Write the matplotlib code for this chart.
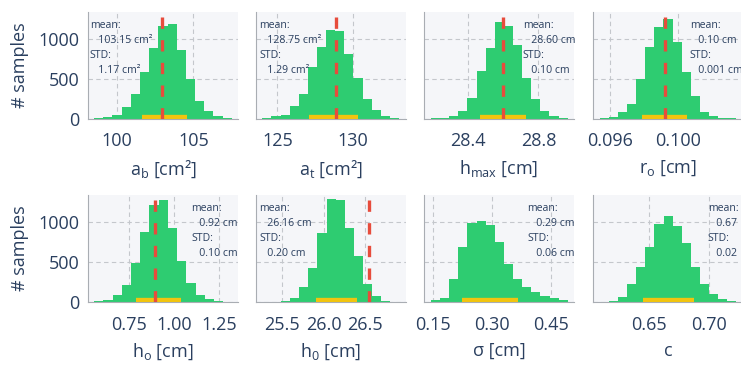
import numpy as np
import matplotlib
matplotlib.use("Agg")
import matplotlib.pyplot as plt

plt.rcParams["font.family"] = ["Open Sans", "DejaVu Sans"]
plt.rcParams["mathtext.fontset"] = "custom"
plt.rcParams["mathtext.rm"] = "Open Sans"
plt.rcParams["mathtext.it"] = "Open Sans"

GREEN = "#2ecc71"
YELLOW = "#f1c40f"
RED = "#e74c3c"
TEXT = "#2a3f5f"
BG = "#f5f6f9"
GRID = "#c4c7cc"

# axis titles
LABELS = [
    r"$\mathrm{a_b}$ [cm²]", r"$\mathrm{a_t}$ [cm²]", r"$\mathrm{h_{max}}$ [cm]", r"$\mathrm{r_o}$ [cm]",
    r"$\mathrm{h_o}$ [cm]", r"$\mathrm{h_0}$ [cm]", "σ [cm]", "c",
]

# histogram counts, 15 bins each
COUNTS = [
    [3, 20, 50, 146, 314, 586, 891, 1159, 1192, 866, 502, 218, 92, 33, 12],
    [3, 30, 50, 160, 312, 652, 905, 1107, 1096, 815, 513, 242, 113, 35, 12],
    [2, 8, 35, 95, 258, 595, 883, 1207, 1162, 920, 514, 250, 95, 30, 8],
    [3, 15, 82, 182, 493, 900, 1147, 1255, 966, 589, 283, 86, 27, 7, 3],
    [15, 22, 92, 215, 485, 884, 1215, 1281, 926, 520, 245, 85, 33, 8, 4],
    [2, 3, 10, 48, 185, 427, 873, 1290, 1278, 936, 578, 230, 80, 15, 3],
    [19, 46, 295, 692, 992, 1015, 968, 755, 472, 293, 194, 129, 80, 48, 21],
    [3, 17, 57, 220, 445, 697, 979, 1085, 954, 740, 445, 220, 105, 33, 14],
]

# histogram range (first and last bin edge)
BIN_RANGE = [
    (98.52, 107.50), (124.01, 133.04), (28.192, 28.966), (0.095415, 0.103378),
    (0.5593, 1.324), (25.266, 26.911), (0.1458, 0.4932), (0.6089, 0.7222),
]

# reference value (red dashed line), None where absent
TRUE_VALUE = [102.98, 128.88, 28.60, 0.0992, 0.898, 26.55, None, None]

# interval shown as yellow bar
INTERVAL = [
    (101.63, 104.60), (127.09, 130.33), (28.472, 28.73), (0.09789, 0.10051),
    (0.7926, 1.037), (25.911, 26.403), (0.2246, 0.366), (0.645, 0.6872),
]

MEAN_TEXT = ["103.15 cm²", "128.75 cm²", "28.60 cm", "0.10 cm", "0.92 cm", "26.16 cm", "0.29 cm", "0.67"]
STD_TEXT = ["1.17 cm²", "1.29 cm²", "0.10 cm", "0.001 cm", "0.10 cm", "0.20 cm", "0.06 cm", "0.02"]

XTICKS = [
    [100, 105], [125, 130], [28.4, 28.8], [0.096, 0.100],
    [0.75, 1.00, 1.25], [25.5, 26.0, 26.5], [0.15, 0.30, 0.45], [0.65, 0.70],
]
XTICKLABELS = [
    ["100", "105"], ["125", "130"], ["28.4", "28.8"], ["0.096", "0.100"],
    ["0.75", "1.00", "1.25"], ["25.5", "26.0", "26.5"], ["0.15", "0.30", "0.45"], ["0.65", "0.70"],
]
XLIM = [
    (98.13, 107.9), (123.59, 133.5), (28.152, 29.002), (0.095005, 0.103788),
    (0.526, 1.354), (25.18, 26.996), (0.128, 0.509), (0.603, 0.728),
]
YTICKS = [0, 500, 1000]
YLIM = (0, 1345)

# layout (pixels)
W, H = 741, 365
COL_LEFT = [88, 256, 424, 593]
ROW_TOP = [11.5, 195]
PANEL_W, PANEL_H = 150, 107
TEXT_X = [0.011, 0.02, 0.658, 0.645, 0.687, 0.02, 0.69, 0.765]

fig = plt.figure(figsize=(W / 100, H / 100), dpi=100)

for i in range(8):
    r, c = divmod(i, 4)
    left = COL_LEFT[c] / W
    bottom = (H - ROW_TOP[r] - PANEL_H) / H
    ax = fig.add_axes([left, bottom, PANEL_W / W, PANEL_H / H])
    ax.set_facecolor(BG)
    ax.set_axisbelow(True)

    edges = np.linspace(BIN_RANGE[i][0], BIN_RANGE[i][1], len(COUNTS[i]) + 1)
    ax.stairs(COUNTS[i], edges, fill=True, color=GREEN, zorder=2)

    lo, hi = INTERVAL[i]
    ax.plot([lo, hi], [0, 0], color=YELLOW, lw=6, solid_capstyle="butt", zorder=3)

    if TRUE_VALUE[i] is not None:
        ax.axvline(TRUE_VALUE[i], color=RED, lw=2.4, dashes=(3.4, 3.4), zorder=4)

    ax.set_xlim(*XLIM[i])
    ax.set_ylim(*YLIM)
    ax.set_xticks(XTICKS[i])
    ax.set_xticklabels(XTICKLABELS[i])
    ax.set_yticks(YTICKS)
    if c == 0:
        ax.set_ylabel("# samples", fontsize=13, color=TEXT)
        ax.yaxis.set_label_coords(-0.393, 0.5)
    else:
        ax.set_yticklabels([])

    ax.grid(True, color=GRID, lw=0.8, linestyle=(0, (4, 3)))
    ax.tick_params(length=0, labelsize=13, labelcolor=TEXT, pad=6)
    ax.tick_params(axis="x", pad=10)
    for s in ["top", "right"]:
        ax.spines[s].set_visible(False)
    for s in ["left", "bottom"]:
        ax.spines[s].set_color("#a9adb3")
        ax.spines[s].set_linewidth(0.8)

    ax.set_xlabel(LABELS[i], fontsize=13, color=TEXT)
    ax.xaxis.set_label_coords(0.5, -0.37)

    ax.text(TEXT_X[i], 0.925,
            f"mean:\n   {MEAN_TEXT[i]}\nSTD:\n   {STD_TEXT[i]}",
            transform=ax.transAxes, ha="left", va="top",
            fontsize=7.6, color=TEXT, linespacing=1.5, zorder=5)

fig.savefig("out.png", dpi=100)
